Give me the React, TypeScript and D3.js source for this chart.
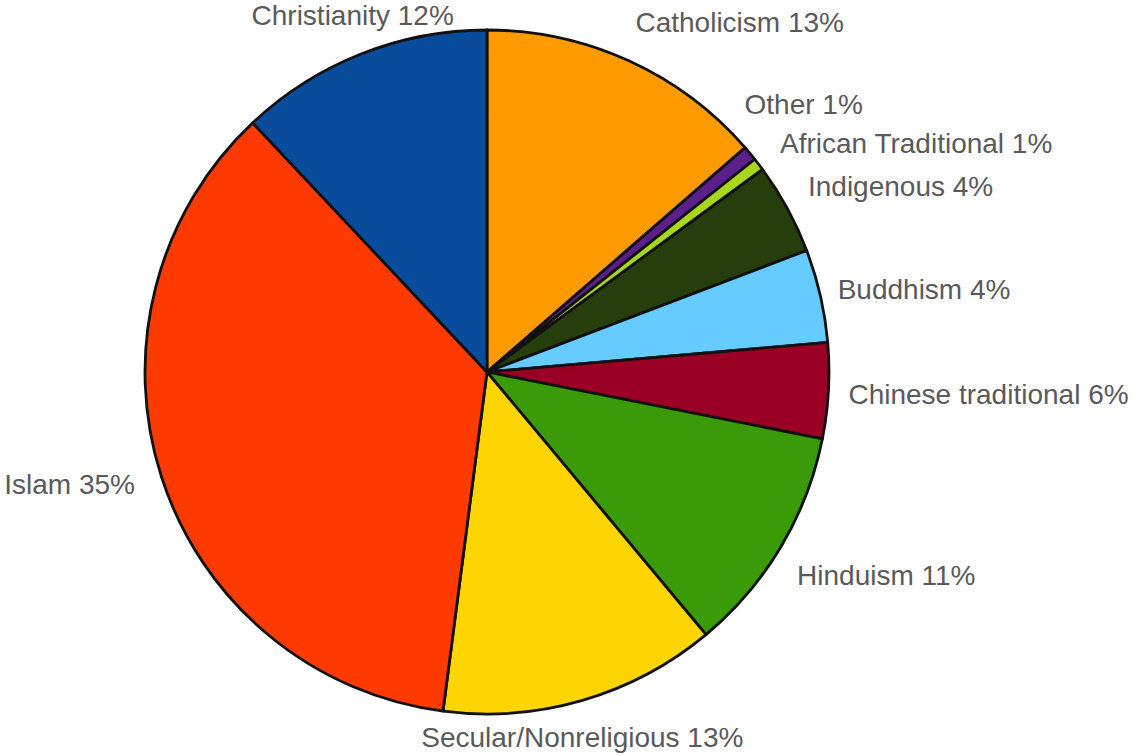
import React from "react";
import * as d3 from "d3";

const categories = [
  "Catholicism",
  "Other",
  "African Traditional",
  "Indigenous",
  "Buddhism",
  "Chinese traditional",
  "Hinduism",
  "Secular/Nonreligious",
  "Islam",
  "Christianity",
];
const values = [13.6, 0.7, 0.6, 4.3, 4.4, 4.5, 10.8, 13.1, 35.9, 12];
const percentLabels = ["13%", "1%", "1%", "4%", "4%", "6%", "11%", "13%", "35%", "12%"];
const colors = [
  "#ff9a00",
  "#5b1f8c",
  "#a8d61c",
  "#263d0c",
  "#66ccff",
  "#9a0024",
  "#3a9a08",
  "#ffd500",
  "#ff3a00",
  "#0a4c9c",
];

// label layout: anchor and nudge (layout only)
const labelLayout: Record<string, { anchor: string; dx: number; dy: number }> = {
  Catholicism: { anchor: "start", dx: -5, dy: -11 },
  Other: { anchor: "start", dx: -27, dy: -29 },
  "African Traditional": { anchor: "start", dx: -1, dy: -2 },
  Indigenous: { anchor: "start", dx: -4, dy: -7 },
  Buddhism: { anchor: "start", dx: -10, dy: 2 },
  "Chinese traditional": { anchor: "start", dx: -8, dy: 4 },
  Hinduism: { anchor: "start", dx: -8, dy: 17 },
  "Secular/Nonreligious": { anchor: "middle", dx: -8, dy: 12 },
  Islam: { anchor: "end", dx: 0, dy: 1 },
  Christianity: { anchor: "middle", dx: 2, dy: -10 },
};

const W = 1140;
const H = 756;
const CX = 487;
const CY = 372;
const R = 342;
const LR = 370;

export default function App() {
  const data = categories.map((c, i) => ({ name: c, value: values[i], color: colors[i], label: `${c} ${percentLabels[i]}` }));
  const pie = d3.pie<any>().sort(null).value((d) => d.value).startAngle(0).endAngle(2 * Math.PI);
  const arcs = pie(data);
  const arc = d3.arc<any>().innerRadius(0).outerRadius(R);
  return (
    <svg width={W} height={H} style={{ position: "absolute", left: 0, top: 0, background: "#fff" }}>
      <g transform={`translate(${CX},${CY})`}>
        {arcs.map((a, i) => (
          <path key={i} d={arc(a) as string} fill={a.data.color} stroke="#111" strokeWidth={2.8} strokeLinejoin="round" />
        ))}
        {arcs.map((a, i) => {
          const mid = (a.startAngle + a.endAngle) / 2;
          const lay = labelLayout[a.data.name];
          const x = Math.sin(mid) * LR + lay.dx;
          const y = -Math.cos(mid) * LR + lay.dy;
          return (
            <text
              key={"t" + i}
              x={x}
              y={y}
              textAnchor={lay.anchor as any}
              dominantBaseline="middle"
              fontFamily="'Liberation Sans', Arial, sans-serif"
              fontSize={28}
              fill="#5a5a5a"
            >
              {a.data.label}
            </text>
          );
        })}
      </g>
    </svg>
  );
}
